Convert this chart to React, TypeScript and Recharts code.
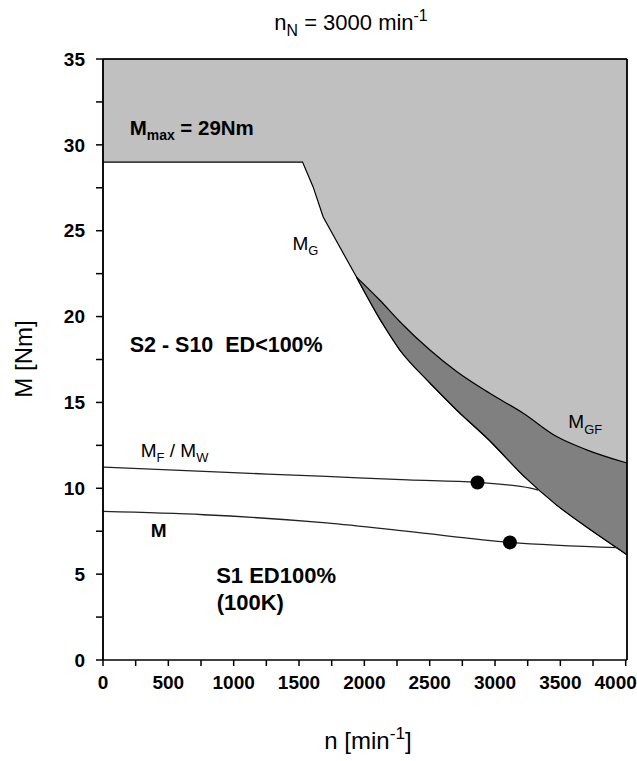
import React from 'react';
import { ComposedChart, Area, Line, Scatter, XAxis, YAxis, ReferenceLine, ReferenceDot } from 'recharts';

// M_max plateau followed by the M_G limit (upper edge of the white region)
const nEnv = [0, 1527, 1608, 1685, 1812, 1940];
const mEnv = [29, 29, 27.55, 25.8, 24.05, 22.3];

// dark band between M_G (lower) and M_GF (upper)
const nGF = [1940, 2119, 2272, 2502, 2706, 2960, 3216, 3472, 3701, 4010];
const mGF = [22.3, 20.95, 19.7, 18.05, 16.8, 15.53, 14.37, 13.01, 12.24, 11.47];
const mGLow = [22.3, 19.85, 18.05, 16.13, 14.56, 12.77, 10.74, 9.02, 7.74, 6.13];

// M_F / M_W curve
const nFW = [0, 771, 1709, 2333, 2866, 3272, 3330];
const mFW = [11.23, 10.98, 10.69, 10.49, 10.34, 10.01, 9.9];

// M curve
const nM = [0, 771, 1709, 2333, 3114, 3940];
const mM = [8.65, 8.46, 7.98, 7.49, 6.85, 6.54];

// rated points
const dotN = [2866, 3114];
const dotM = [10.34, 6.85];

const xTicks = [0, 250, 500, 750, 1000, 1250, 1500, 1750, 2000, 2250, 2500, 2750, 3000, 3250, 3500, 3750, 4000];
const yTicks = [0, 2.5, 5, 7.5, 10, 12.5, 15, 17.5, 20, 22.5, 25, 27.5, 30, 32.5, 35];

const FONT = 'Arial, "Liberation Sans", Helvetica, sans-serif';
const X_MAX = 4010;

// light region: from the lower limit up to 35 Nm (the dark band is painted over it)
const lightData = [
  ...nEnv.map((n, i) => ({ n, band: [mEnv[i], 35] })),
  ...nGF.slice(1).map((n, i) => ({ n, band: [mGLow[i + 1], 35] })),
];
const darkData = nGF.map((n, i) => ({ n, band: [mGLow[i], mGF[i]] }));
const fwData = nFW.map((n, i) => ({ n, m: mFW[i] }));
const mData = nM.map((n, i) => ({ n, m: mM[i] }));
const dotData = dotN.map((n, i) => ({ n, m: dotM[i] }));

type Part = [string, ('sub' | 'sup')?];

const notes: { n: number; m: number; parts: Part[]; bold?: boolean; size: number }[] = [
  { n: 204, m: 30.6, parts: [['M'], ['max', 'sub'], [' = 29Nm']], bold: true, size: 20.5 },
  { n: 1450, m: 23.9, parts: [['M'], ['G', 'sub']], size: 19 },
  { n: 204, m: 17.94, parts: [['S2 - S10\u00a0\u00a0ED<100%']], bold: true, size: 21.5 },
  { n: 3561, m: 13.5, parts: [['M'], ['GF', 'sub']], size: 19 },
  { n: 289, m: 11.83, parts: [['M'], ['F', 'sub'], [' / M'], ['W', 'sub']], size: 19 },
  { n: 366, m: 7.18, parts: [['M']], bold: true, size: 19 },
  { n: 866, m: 4.5, parts: [['S1 ED100%']], bold: true, size: 22 },
  { n: 870, m: 2.93, parts: [['(100K)']], bold: true, size: 22 },
];

function RichText({ x, y, parts, size, bold, anchor, transform, ratio = 0.68 }: any) {
  let shift = 0;
  return (
    <text x={x} y={y} fontSize={size} fontWeight={bold ? 'bold' : 'normal'} fontFamily={FONT}
      textAnchor={anchor || 'start'} fill="#000" transform={transform}>
      {parts.map((p: Part, i: number) => {
        const target = p[1] === 'sub' ? size * 0.28 : p[1] === 'sup' ? -size * 0.42 : 0;
        const dy = target - shift;
        shift = target;
        return (
          <tspan key={i} dy={dy} fontSize={p[1] ? size * ratio : size}>{p[0]}</tspan>
        );
      })}
    </text>
  );
}

const XTick = (props: any) => {
  const { x, y, payload } = props;
  if (payload.value % 500 !== 0) return <g />;
  const dx = payload.value === 4000 ? -10 : 0;
  return (
    <text x={x + dx} y={y} dy="0.71em" textAnchor="middle" fontSize={19} fontWeight="bold" fontFamily={FONT} fill="#000">
      {payload.value}
    </text>
  );
};

const YTick = (props: any) => {
  const { x, y, payload } = props;
  if (payload.value % 5 !== 0) return <g />;
  return (
    <text x={x} y={y} dy="0.355em" textAnchor="end" fontSize={19} fontWeight="bold" fontFamily={FONT} fill="#000">
      {payload.value}
    </text>
  );
};

export default function App() {
  return (
    <div style={{ position: 'fixed', left: 0, top: 0, width: 637, height: 761, background: '#fff' }}>
      <ComposedChart width={637} height={761} margin={{ top: 59, right: 10, bottom: 71, left: 0 }}>
        <XAxis type="number" dataKey="n" domain={[0, X_MAX]} ticks={xTicks} interval={0} tick={XTick}
          tickSize={6} tickMargin={10} height={30} stroke="#000" strokeWidth={1.5} />
        <YAxis type="number" domain={[0, 35]} ticks={yTicks} interval={0} tick={YTick}
          tickSize={7} tickMargin={11} width={103} stroke="#000" strokeWidth={1.5} />

        <Area data={lightData} dataKey="band" type="linear" fill="#c0c0c0" fillOpacity={1}
          stroke="#000" strokeWidth={1.2} dot={false} activeDot={false} isAnimationActive={false} />
        <Line data={fwData} dataKey="m" type="monotone" stroke="#222" strokeWidth={1.3}
          dot={false} activeDot={false} isAnimationActive={false} />
        <Line data={mData} dataKey="m" type="monotone" stroke="#222" strokeWidth={1.3}
          dot={false} activeDot={false} isAnimationActive={false} />
        <Area data={darkData} dataKey="band" type="monotone" fill="#808080" fillOpacity={1}
          stroke="#000" strokeWidth={1.2} dot={false} activeDot={false} isAnimationActive={false} />
        <Scatter data={dotData} dataKey="m" isAnimationActive={false}
          shape={(p: any) => <circle cx={p.cx} cy={p.cy} r={7} fill="#000" />} />

        <ReferenceLine x={0} stroke="#000" strokeWidth={1.5} />
        <ReferenceLine x={X_MAX} stroke="#000" strokeWidth={1.8} />
        <ReferenceLine y={35} stroke="#000" strokeWidth={1.5} />

        {notes.map((t, i) => (
          <ReferenceDot key={i} x={t.n} y={t.m} r={0}
            shape={(p: any) => <RichText x={p.cx} y={p.cy} parts={t.parts} size={t.size} bold={t.bold} />} />
        ))}
      </ComposedChart>

      <svg width={637} height={761} style={{ position: 'absolute', left: 0, top: 0, pointerEvents: 'none' }}>
        <RichText x={351} y={30} size={22} anchor="middle" ratio={0.72}
          parts={[['n'], ['N', 'sub'], [' = 3000 min'], ['-1', 'sup']]} />
        <RichText x={368} y={749} size={24} anchor="middle" ratio={0.72}
          parts={[['n [min'], ['-1', 'sup'], [']']]} />
        <RichText x={32} y={359} size={24} anchor="middle" transform="rotate(-90, 32, 359)"
          parts={[['M [Nm]']]} />
      </svg>
    </div>
  );
}
